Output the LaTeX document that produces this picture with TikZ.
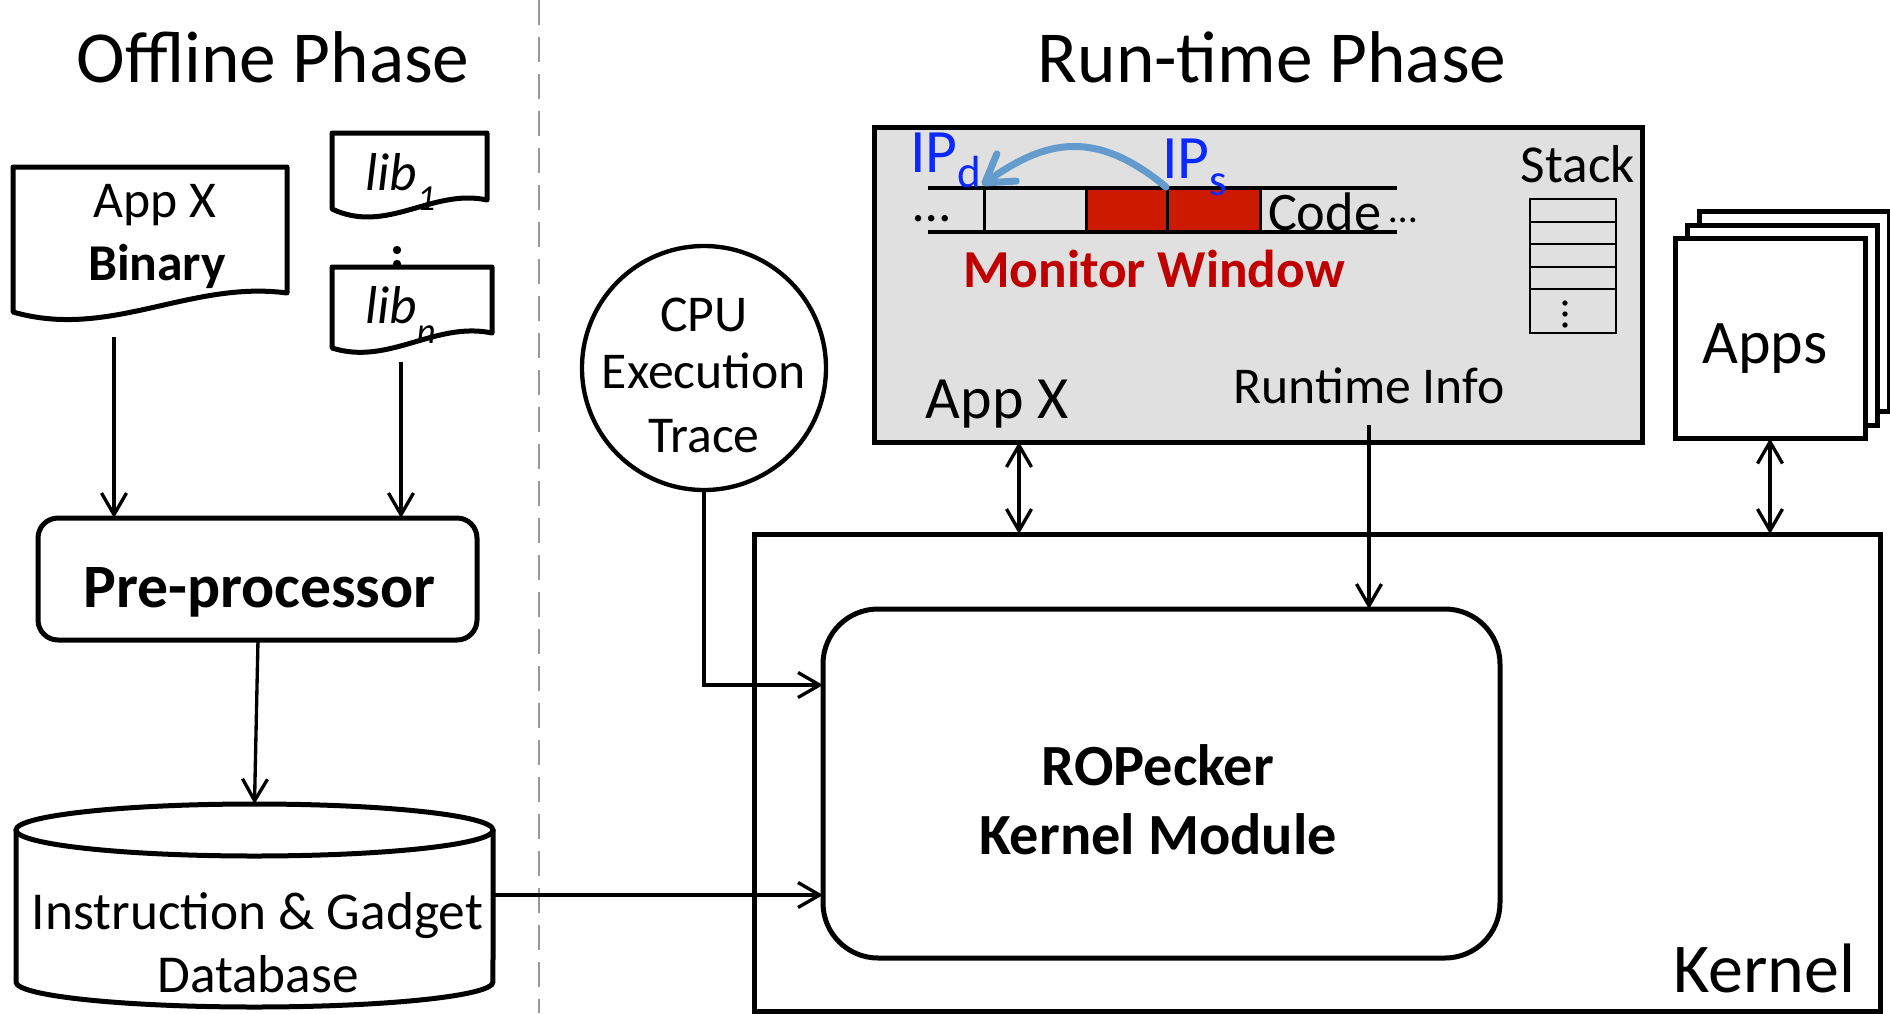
\documentclass[tikz,border=0pt]{standalone}
\usepackage{fontspec}
\setmainfont{Carlito}
\usetikzlibrary{arrows.meta}
\definecolor{grayfill}{RGB}{224,224,224}
\definecolor{codered}{RGB}{204,26,0}
\definecolor{mwred}{RGB}{192,0,0}
\definecolor{ipblue}{RGB}{10,40,255}
\definecolor{arrblue}{RGB}{100,155,205}
\begin{document}
\begin{tikzpicture}[x=0.3pt,y=-0.3pt,
  every node/.style={inner sep=0pt,outer sep=0pt},
  thickline/.style={line width=1.5pt},
  arr/.style={line width=1pt,-{Straight Barb[length=6.5pt,width=7.5pt]}},
  darr/.style={line width=1pt,{Straight Barb[length=6.5pt,width=7.5pt]}-{Straight Barb[length=6.5pt,width=7.5pt]}},
  title/.style={font=\fontsize{22}{26}\selectfont, anchor=base},
  txt/.style={font=\fontsize{15.5}{18}\selectfont, anchor=base},
  btxt/.style={font=\fontsize{15.5}{18}\selectfont\bfseries, anchor=base},
  appbox/.style={draw, thickline, fill=white, minimum width=57pt, minimum height=60pt},
]
\useasboundingbox (0,0) rectangle (1890,1013);

% divider and titles
\draw[gray!80, line width=0.6pt, dash pattern=on 7.5pt off 3.6pt] (539,0) -- (539,1013);
\node[title] (offT) at (273,82) {Offline Phase};
\node[title] (runT) at (1272,82) {Run-time Phase};

% App X binary document
\draw[thickline, line join=round, fill=white] (13,167) -- (287,167) -- (287,293)
  .. controls (190,280) and (110,340) .. (13,312) -- cycle;
\node[txt] (binT1) at (155,217) {App X};
\node[btxt] (binT2) at (157,280) {Binary};
\coordinate (binbot) at (114,337);

% libraries
\draw[thickline, line join=round, fill=white] (332,133) -- (487,133) -- (487,200)
  .. controls (432,188) and (387,235) .. (332,209) -- cycle;
\node[anchor=base west, font=\fontsize{16}{19}\selectfont\itshape] (lib1T) at (365,190)
  {lib\raisebox{-6pt}{\fontsize{11}{13}\selectfont 1}};
\fill (397,250) circle[radius=1.25pt];
\fill (397,264) circle[radius=1.25pt];
\draw[thickline, line join=round, fill=white] (332,267) -- (492,267) -- (492,333)
  .. controls (435,321) and (389,366) .. (332,348) -- cycle;
\node[anchor=base west, font=\fontsize{16}{19}\selectfont\itshape] (libnT) at (365,323)
  {lib\raisebox{-6pt}{\fontsize{11}{13}\selectfont n}};
\coordinate (libbot) at (401,362);

% pre-processor
\node[draw, thickline, rounded corners=6pt, minimum width=131.7pt, minimum height=36.6pt] (pre) at (257.5,579) {};
\node[font=\fontsize{18.5}{22}\selectfont\bfseries, anchor=base] (preT) at (259.5,607) {Pre-processor};
\draw[arr] (binbot) -- (binbot |- pre.north);
\draw[arr] (libbot) -- (libbot |- pre.north);

% database
\draw[thickline] (16,830) -- (16,982) arc[start angle=180,end angle=360,x radius=71.55pt,y radius=7.5pt] -- (493,830);
\draw[thickline] (254.5,830) ellipse[x radius=71.55pt, y radius=7.8pt];
\coordinate (dbtop) at (254.5,804);
\coordinate (dbR) at (493,895);
\node[font=\fontsize{16}{19}\selectfont, anchor=base] (dbT1) at (257.5,929) {Instruction \& Gadget};
\node[font=\fontsize{16}{19}\selectfont, anchor=base] (dbT2) at (258,992) {Database};
\draw[arr] ([xshift=0.15pt]pre.south) -- (dbtop);

% kernel
\node[draw, thickline, minimum width=337.8pt, minimum height=143.1pt] (kernel) at (1317,772.5) {};
\node[font=\fontsize{21}{25}\selectfont, anchor=base east] (kernelT) at (1855,992) {Kernel};

% ROPecker module
\node[draw, thickline, rounded corners=16.5pt, minimum width=203.1pt, minimum height=104.7pt, fill=white] (rop) at (1161.5,783.5) {};
\node[font=\fontsize{17.5}{21}\selectfont\bfseries, anchor=base] (ropT1) at (1158,785) {ROPecker};
\node[font=\fontsize{17.5}{21}\selectfont\bfseries, anchor=base] (ropT2) at (1158,854) {Kernel Module};

% CPU execution trace
\node[draw, circle, line width=1.3pt, minimum size=73.2pt] (cpu) at (704,368) {};
\node[txt] (cpuT1) at (704,331) {CPU};
\node[txt] (cpuT2) at (704,388) {Execution};
\node[txt] (cpuT3) at (704,452) {Trace};
\coordinate (ropin1) at (823,685);
\draw[arr] (cpu.south) |- (ropin1);
\draw[arr] (dbR) -- (dbR -| rop.west);

% App X gray box
\node[draw, thickline, fill=grayfill, minimum width=230.4pt, minimum height=94.5pt] (appx) at (1258,284.5) {};
\fill[codered] (1086,188) rectangle (1260,232);
\draw[line width=1.2pt] (928,188) -- (1397,188);
\draw[line width=1.2pt] (928,232) -- (1397,232);
\foreach \xx in {984,1086,1167,1260} \draw[line width=0.9pt] (\xx,188) -- (\xx,232);
\node[font=\fontsize{16}{19}\selectfont, anchor=base, text height=4pt, text depth=0pt] (dotsL) at (932,221) {…};
\node[font=\fontsize{16.3}{19}\selectfont, anchor=base west] (codeT) at (1268,230) {Code};
\node[font=\fontsize{12}{14}\selectfont, anchor=base, text height=3pt, text depth=0pt] (dotsR) at (1403,222) {…};
\node[font=\fontsize{16}{19}\selectfont\bfseries, text=mwred, anchor=base] (mwT) at (1154,287) {Monitor Window};
\node[font=\fontsize{18.5}{21}\selectfont, text=ipblue, anchor=base west] (ipd) at (910,172)
  {IP\raisebox{-4.5pt}{\fontsize{13.5}{15}\selectfont d}};
\node[font=\fontsize{18.5}{21}\selectfont, text=ipblue, anchor=base west] (ips) at (1162,178)
  {IP\raisebox{-5.1pt}{\fontsize{13.5}{15}\selectfont s}};
\coordinate (ipsrc) at (1166,187);
\coordinate (ipdst) at (982,185);
\draw[arrblue, line width=2.1pt, line cap=round, -{Straight Barb[length=8pt,width=10pt,round]}]
  (ipsrc) .. controls (1095,128) and (1045,140) .. (ipdst);

% stack
\node[font=\fontsize{16}{19}\selectfont, anchor=base] (stackT) at (1578,182) {Stack};
\node[draw, line width=0.8pt, minimum width=25.8pt, minimum height=40.2pt] (stack) at (1573,266) {};
\foreach \yy in {222,244,267,289} \draw[line width=0.8pt] (stack.west |- 0,\yy) -- (stack.east |- 0,\yy);
\foreach \yy in {303,314,325} \fill (1565,\yy) circle[radius=0.8pt];

\node[font=\fontsize{18}{21}\selectfont, anchor=base] (appxT) at (997,418) {App X};
\node[txt] (rtT) at (1369,403) {Runtime Info};
\coordinate (rtsrc) at (1369,425);
\draw[arr] (rtsrc) -- (rtsrc |- rop.north);
\coordinate (axx) at (1019,0);
\draw[darr] (appx.south -| axx) -- (kernel.north -| axx);

% other apps
\node[appbox] (apps3) at (1794,311.5) {};
\node[appbox] (apps2) at (1782,325.5) {};
\node[appbox] (apps) at (1770,338.5) {};
\node[font=\fontsize{18.6}{22}\selectfont, anchor=base] (appsT) at (1765,363) {Apps};
\draw[darr] (apps.south) -- (apps.south |- kernel.north);
\end{tikzpicture}
\end{document}
